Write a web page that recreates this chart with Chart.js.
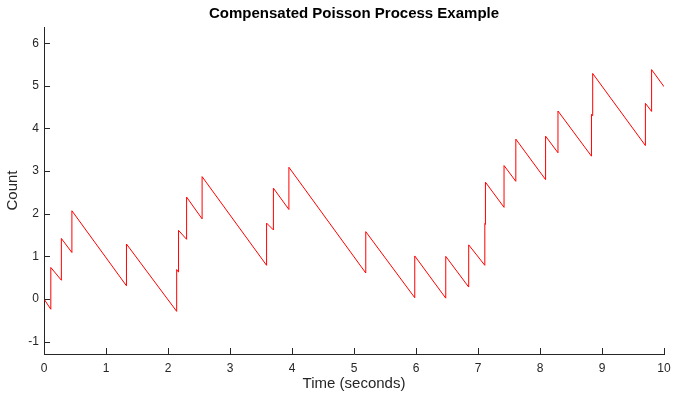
<!DOCTYPE html>
<html>
<head>
<meta charset="utf-8">
<script src="https://cdn.jsdelivr.net/npm/chart.js@4.4.1/dist/chart.umd.min.js"></script>
<style>
    html, body { margin: 0; padding: 0; background: #ffffff; }
    #poissonChart { display: block; }
</style>
</head>
<body>
<canvas id="poissonChart" width="673" height="394"></canvas>
<script>
// jump times (s), with the level just before and just after each jump
const jumpTimes = [0.11, 0.28, 0.45, 1.33, 2.14, 2.17, 2.30, 2.55, 3.59, 3.70, 3.95, 5.19, 5.98,
    6.48, 6.85, 7.11, 7.12, 7.42, 7.61, 8.09, 8.29, 8.83, 8.85, 9.70, 9.80];
const countBefore = [-0.24, 0.44, 1.09, 0.31, -0.29, 0.63, 1.40, 1.88, 0.79, 1.62, 2.10, 0.61, 0.03,
    0.02, 0.28, 0.79, 1.75, 2.15, 2.76, 2.80, 3.43, 3.35, 4.30, 3.60, 4.40];
const countAfter = [0.74, 1.42, 2.07, 1.29, 0.69, 1.61, 2.39, 2.87, 1.78, 2.60, 3.09, 1.58, 1.01,
    1.00, 1.27, 1.77, 2.74, 3.13, 3.75, 3.82, 4.41, 4.33, 5.29, 4.59, 5.38];
const startTime = 0, startCount = 0;
const endTime = 10, endCount = 4.98;

const xTicks = [0, 1, 2, 3, 4, 5, 6, 7, 8, 9, 10];
const yTicks = [-1, 0, 1, 2, 3, 4, 5, 6];

const axisColor = '#262626';
const fontFamily = "'Liberation Sans', Arial, Helvetica, sans-serif";

// vertices of the path: down-slope to each jump, then straight up
const points = [{ x: startTime, y: startCount }];
for (let i = 0; i < jumpTimes.length; i++) {
    points.push({ x: jumpTimes[i], y: countBefore[i] });
    points.push({ x: jumpTimes[i], y: countAfter[i] });
}
points.push({ x: endTime, y: endCount });

// title centred over the plot area, and tick marks pointing inwards
const matlabLook = {
    id: 'matlabLook',
    afterDraw(chart) {
        const ctx = chart.ctx;
        const area = chart.chartArea;
        const xs = chart.scales.x, ys = chart.scales.y;
        ctx.save();
        ctx.strokeStyle = axisColor;
        ctx.lineWidth = 1;
        ctx.beginPath();
        xTicks.forEach(v => {
            const px = Math.round(xs.getPixelForValue(v)) + 0.5;
            ctx.moveTo(px, area.bottom);
            ctx.lineTo(px, area.bottom - 6);
        });
        yTicks.forEach(v => {
            const py = Math.round(ys.getPixelForValue(v)) + 0.5;
            ctx.moveTo(area.left, py);
            ctx.lineTo(area.left + 6, py);
        });
        ctx.stroke();

        ctx.fillStyle = '#000000';
        ctx.font = 'bold 15px ' + fontFamily;
        ctx.textAlign = 'center';
        ctx.textBaseline = 'middle';
        ctx.fillText('Compensated Poisson Process Example', (area.left + area.right) / 2, 14);
        ctx.restore();
    }
};

new Chart(document.getElementById('poissonChart').getContext('2d'), {
    type: 'line',
    data: {
        datasets: [{
            data: points,
            borderColor: '#ff0000',
            borderWidth: 1,
            pointRadius: 0,
            tension: 0,
            fill: false
        }]
    },
    options: {
        responsive: false,
        animation: false,
        layout: { padding: { top: 27, right: 9, left: 0, bottom: 0 } },
        plugins: {
            legend: { display: false },
            title: { display: false },
            tooltip: { enabled: false }
        },
        scales: {
            x: {
                type: 'linear',
                min: 0,
                max: 10,
                afterBuildTicks: scale => { scale.ticks = xTicks.map(v => ({ value: v })); },
                afterFit: scale => {
                    scale.height = 40;
                    scale.paddingLeft = 0;
                    scale.paddingRight = 0;
                },
                grid: { display: false, drawTicks: false },
                border: { display: true, color: axisColor, width: 1 },
                ticks: {
                    color: axisColor,
                    padding: 7,
                    maxRotation: 0,
                    font: { family: fontFamily, size: 12 }
                },
                title: {
                    display: true,
                    text: 'Time (seconds)',
                    color: axisColor,
                    padding: { top: 0, bottom: 1 },
                    font: { family: fontFamily, size: 15 }
                }
            },
            y: {
                type: 'linear',
                min: -1.29,
                max: 6.38,
                afterBuildTicks: scale => { scale.ticks = yTicks.map(v => ({ value: v })); },
                afterFit: scale => {
                    scale.width = 44;
                    scale.paddingTop = 0;
                    scale.paddingBottom = 0;
                },
                grid: { display: false, drawTicks: false },
                border: { display: true, color: axisColor, width: 1 },
                ticks: {
                    color: axisColor,
                    padding: 5,
                    font: { family: fontFamily, size: 12 }
                },
                title: {
                    display: true,
                    text: 'Count',
                    color: axisColor,
                    padding: { top: 4, bottom: 0 },
                    font: { family: fontFamily, size: 15 }
                }
            }
        }
    },
    plugins: [matlabLook]
});
</script>
</body>
</html>
